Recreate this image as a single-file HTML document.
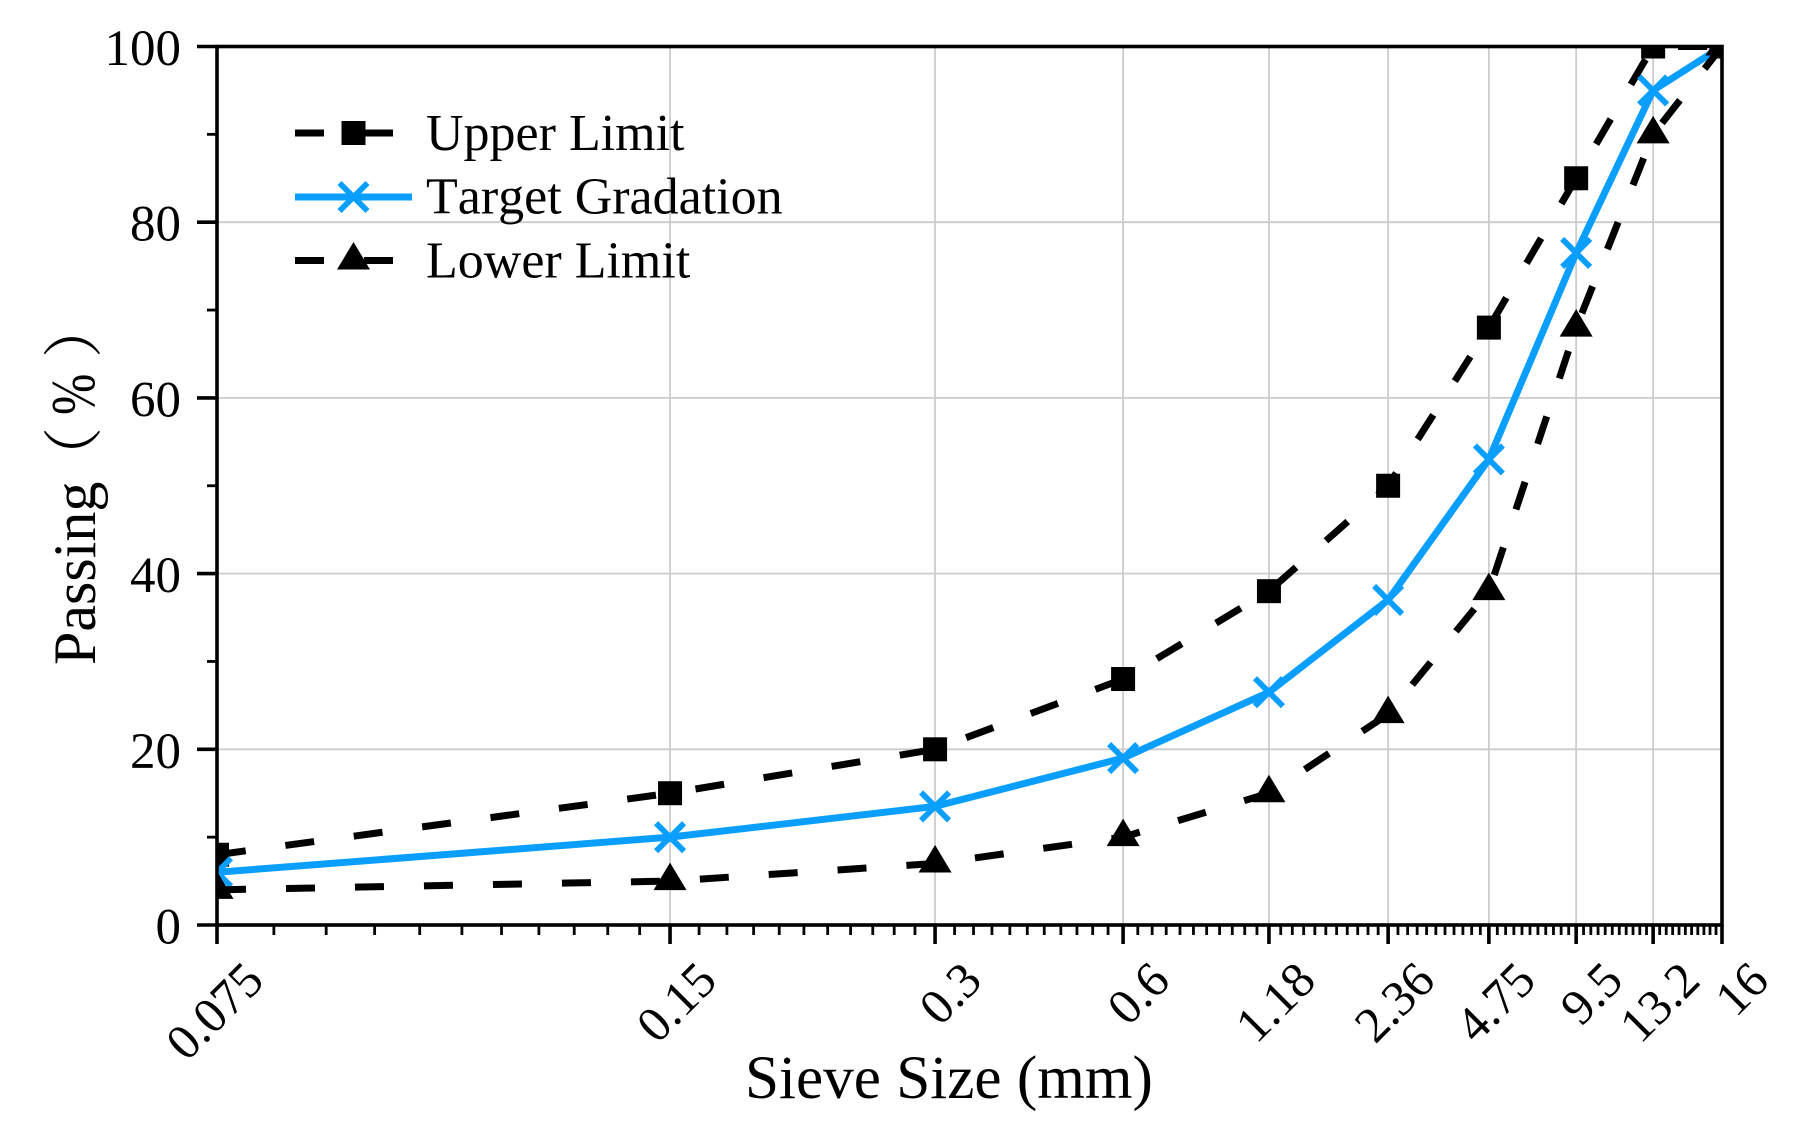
<!DOCTYPE html>
<html lang="en">
<head>
<meta charset="utf-8">
<title>Sieve Size Gradation Chart</title>
<style>
  html, body { margin: 0; padding: 0; background: #ffffff; }
  #chart { display: block; width: 1795px; height: 1139px; }
  text { font-family: "Liberation Serif", "Noto Serif CJK SC", serif; fill: #000; font-kerning: none; }
</style>
</head>
<body>
<svg id="chart" xmlns="http://www.w3.org/2000/svg" width="1795" height="1139" viewBox="0 0 1795 1139">
  <defs>
    <clipPath id="plot-clip"><rect x="217" y="46.5" width="1505" height="878.5"/></clipPath>
  </defs>
  <rect x="0" y="0" width="1795" height="1139" fill="#ffffff"/>
  <g id="grid"></g>
  <g id="series" clip-path="url(#plot-clip)"></g>
  <g id="axes"></g>
  <g id="legend"></g>
  <text x="745" y="1098" font-size="61.2">Sieve Size (mm)</text>
  <g transform="translate(95 665) rotate(-90)">
    <text x="0" y="0" font-size="60">Passing</text>
    <text x="178" y="0" font-size="60" style="font-family:'Noto Serif CJK SC',serif">（</text>
    <text transform="translate(250 -1) scale(0.8 1)" font-size="62">%</text>
    <text x="307" y="0" font-size="60" style="font-family:'Noto Serif CJK SC',serif">）</text>
  </g>
</svg>
<script>
const sieveLabels = ['0.075', '0.15', '0.3', '0.6', '1.18', '2.36', '4.75', '9.5', '13.2', '16'];
const upperLimit = [8, 15, 20, 28, 38, 50, 68, 85, 100, 100];
const targetGradation = [6, 10, 13.5, 19, 26.5, 37, 53, 76.5, 95, 100];
const lowerLimit = [4, 5, 7, 10, 15, 24, 38, 68, 90, 100];
const yMajorTicks = [0, 20, 40, 60, 80, 100];
const yMinorTicks = [10, 30, 50, 70, 90];

const NS = 'http://www.w3.org/2000/svg';
const plot = { left: 217, right: 1722, top: 46.5, bottom: 925 };
const black = '#000000';
const blue = '#0A9FFF';
const gridColor = '#cccccc';

/* The x axis is a log10 axis over sieve ordinal (1..n). */
function xAxis(pos) {
  return plot.left + (plot.right - plot.left) * Math.log10(pos) / Math.log10(sieveLabels.length);
}
function xIndex(i) { return xAxis(i + 1); }
function yAxis(v) {
  return plot.bottom - (plot.bottom - plot.top) * v / 100;
}
function make(tag, parent, attrs) {
  const el = document.createElementNS(NS, tag);
  for (const k in attrs) el.setAttribute(k, attrs[k]);
  parent.appendChild(el);
  return el;
}

const gridG = document.getElementById('grid');
const axesG = document.getElementById('axes');
const seriesG = document.getElementById('series');
const legendG = document.getElementById('legend');

/* grid */
sieveLabels.forEach((lab, i) => {
  const x = xIndex(i);
  const g = make('line', gridG, { x1: x, x2: x, y1: plot.top, y2: plot.bottom, stroke: gridColor, 'stroke-width': 1.8 });
  
  
});
yMajorTicks.forEach(v => {
  const y = yAxis(v);
  const g = make('line', gridG, { x1: plot.left, x2: plot.right, y1: y, y2: y, stroke: gridColor, 'stroke-width': 1.8 });
  
  
});

/* series */
function drawSquare(parent, cx, cy) {
  const s = make('rect', parent, { x: cx - 12, y: cy - 12, width: 24, height: 24, fill: black });
  
  
}
function drawTriangle(parent, cx, cy) {
  const t = make('polygon', parent, { points: [cx, cy - 18.5, cx + 16.5, cy + 9, cx - 16.5, cy + 9].join(' '), fill: black });
  
  
}
function drawCross(parent, cx, cy) {
  const c = make('path', parent, {
    d: 'M' + (cx - 14) + ' ' + (cy - 14) + 'L' + (cx + 14) + ' ' + (cy + 14) + 'M' + (cx - 14) + ' ' + (cy + 14) + 'L' + (cx + 14) + ' ' + (cy - 14),
    stroke: blue, 'stroke-width': 5.8, fill: 'none'
  });
  
  
}
function linePoints(values) {
  return values.map((v, i) => xIndex(i) + ',' + yAxis(v)).join(' ');
}

const upperLine = make('polyline', seriesG, { points: linePoints(upperLimit), fill: 'none', stroke: black, 'stroke-width': 7, 'stroke-dasharray': '29 40', 'stroke-linejoin': 'round' });


upperLimit.forEach((v, i) => drawSquare(seriesG, xIndex(i), yAxis(v)));

const targetLine = make('polyline', seriesG, { points: linePoints(targetGradation), fill: 'none', stroke: blue, 'stroke-width': 7, 'stroke-linejoin': 'round' });


targetGradation.forEach((v, i) => drawCross(seriesG, xIndex(i), yAxis(v)));

const lowerLine = make('polyline', seriesG, { points: linePoints(lowerLimit), fill: 'none', stroke: black, 'stroke-width': 7, 'stroke-dasharray': '29 40', 'stroke-linejoin': 'round' });


lowerLimit.forEach((v, i) => drawTriangle(seriesG, xIndex(i), yAxis(v)));

/* ticks */
sieveLabels.forEach((lab, i) => {
  const x = xIndex(i);
  const t = make('line', axesG, { x1: x, x2: x, y1: plot.bottom, y2: plot.bottom + 19, stroke: black, 'stroke-width': 3.6 });
  
  
  const l = make('text', axesG, { x: 0, y: 0, 'font-size': 50, 'text-anchor': 'end', transform: 'translate(' + (x + 49) + ' 983) rotate(-45)' });
  l.textContent = lab;
  
  
  if (i < sieveLabels.length - 1) {
    for (let k = 1; k <= 10; k++) {
      const mx = xAxis(i + 1 + k / 11);
      const m = make('line', axesG, { x1: mx, x2: mx, y1: plot.bottom, y2: plot.bottom + 10, stroke: black, 'stroke-width': 2.8 });
      
      
    }
  }
});
yMajorTicks.forEach(v => {
  const y = yAxis(v);
  const t = make('line', axesG, { x1: plot.left - 20, x2: plot.left, y1: y, y2: y, stroke: black, 'stroke-width': 3.6 });
  
  
  const l = make('text', axesG, { x: 181, y: y + 18.5, 'font-size': 51, 'text-anchor': 'end' });
  l.textContent = String(v);
  
  
});
yMinorTicks.forEach(v => {
  const y = yAxis(v);
  const t = make('line', axesG, { x1: plot.left - 10, x2: plot.left, y1: y, y2: y, stroke: black, 'stroke-width': 2.8 });
  
  
});

/* spines */
const spine = make('rect', axesG, { x: plot.left, y: plot.top, width: plot.right - plot.left, height: plot.bottom - plot.top, fill: 'none', stroke: black, 'stroke-width': 3.6 });



/* legend */
const legendUpperLine = make('line', legendG, { x1: 295, x2: 412, y1: 133, y2: 133, stroke: black, 'stroke-width': 7, 'stroke-dasharray': '29 40' });


drawSquare(legendG, 353.5, 133);
const legendUpperText = make('text', legendG, { x: 426, y: 150, 'font-size': 52 });
legendUpperText.textContent = 'Upper Limit';



const legendTargetLine = make('line', legendG, { x1: 295, x2: 412, y1: 197, y2: 197, stroke: blue, 'stroke-width': 7 });


drawCross(legendG, 353.5, 197);
const legendTargetText = make('text', legendG, { x: 426, y: 213.5, 'font-size': 52 });
legendTargetText.textContent = 'Target Gradation';



const legendLowerLine = make('line', legendG, { x1: 295, x2: 412, y1: 260.5, y2: 260.5, stroke: black, 'stroke-width': 7, 'stroke-dasharray': '29 40' });


drawTriangle(legendG, 353.5, 260.5);
const legendLowerText = make('text', legendG, { x: 426, y: 277.5, 'font-size': 52 });
legendLowerText.textContent = 'Lower Limit';


</script>
</body>
</html>
